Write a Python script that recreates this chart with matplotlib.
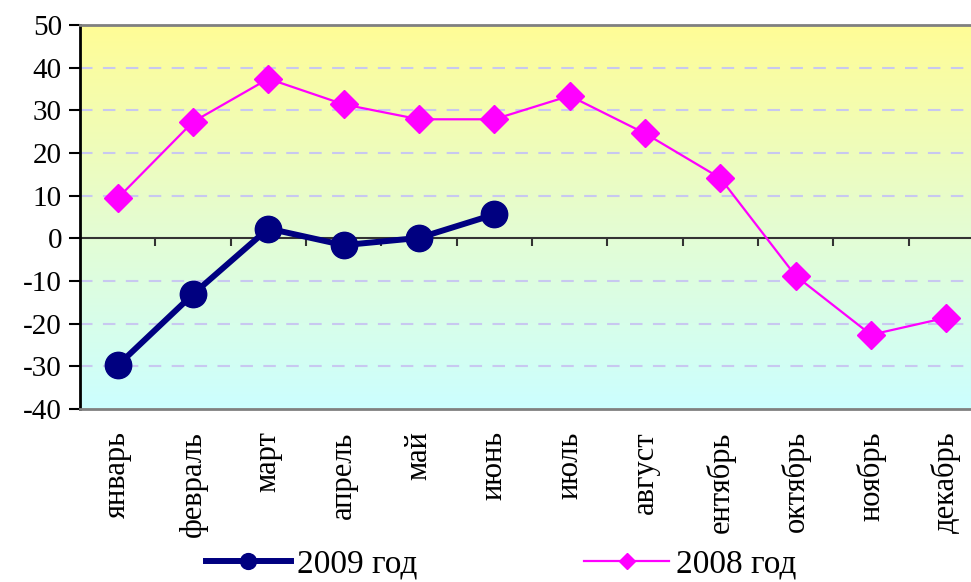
import numpy as np
import matplotlib.pyplot as plt
from matplotlib.colors import LinearSegmentedColormap

months = ["январь", "февраль", "март", "апрель", "май", "июнь",
          "июль", "август", "ентябрь", "октябрь", "ноябрь", "декабрь"]
y2009 = [-29.8, -13.1, 2.3, -1.6, 0.1, 5.6]
y2008 = [9.4, 27.3, 37.4, 31.4, 27.9, 27.9, 33.4, 24.6, 14.1, -8.8, -22.6, -18.6]
yticks = [-40, -30, -20, -10, 0, 10, 20, 30, 40, 50]

plt.rcParams['font.family'] = ['Liberation Serif', 'DejaVu Serif']
plt.rcParams['axes.unicode_minus'] = False

fig = plt.figure(figsize=(9.71, 5.82), dpi=100)
# plot area runs past the right edge like in the original
ax = fig.add_axes([80 / 971, 1 - 409 / 582, 904 / 971, 384 / 582])

x = np.arange(len(months))
ax.set_xlim(-0.5, 11.5)
ax.set_ylim(-40, 50)

# background gradient yellow -> light green -> light cyan
cmap = LinearSegmentedColormap.from_list(
    "bg", [(0.0, "#ccffff"), (40 / 90, "#e3fdd5"), (1.0, "#fffc96")])
grad = np.linspace(0, 1, 256).reshape(-1, 1)
ax.imshow(grad, cmap=cmap, aspect='auto', origin='lower',
          extent=(-0.5, 11.5, -40, 50), zorder=0)

for t in yticks:
    if t not in (0, 50, -40):
        ax.axhline(t, color='#c8c8f0', lw=1.5, ls=(0, (6, 5)), zorder=1)
ax.axhline(0, color='#333333', lw=1.5, zorder=2)
ax.vlines(np.arange(0.5, 11.5), -1.9, 0, color='#333333', lw=1.5, zorder=2)

ax.plot(x, y2008, color='#ff00ff', lw=1.6, marker='D', ms=14,
        label='2008 год', zorder=3)
ax.plot(x[:len(y2009)], y2009, color='#000080', lw=4.3, marker='o', ms=19,
        label='2009 год', zorder=4)

ax.set_yticks(yticks)
ax.tick_params(axis='y', labelsize=21, length=8, width=1.5, direction='out',
               pad=5)
ax.set_xticks(x)
ax.set_xticklabels(months, rotation=90, fontsize=22, va='top')
ax.tick_params(axis='x', length=0, pad=16)

ax.spines['left'].set_color('black')
ax.spines['left'].set_linewidth(2)
for s in ('top', 'bottom'):
    ax.spines[s].set_color('#808080')
    ax.spines[s].set_linewidth(2)
ax.spines['right'].set_visible(False)

h, l = ax.get_legend_handles_labels()
leg = fig.legend(h[::-1], l[::-1], loc='center', ncol=2, frameon=False,
                 bbox_to_anchor=(0.516, 0.03), fontsize=24,
                 handlelength=2.55, columnspacing=5.0, handletextpad=0.2,
                 markerscale=0.6, borderpad=0.1)

fig.savefig('out.png', dpi=100)
